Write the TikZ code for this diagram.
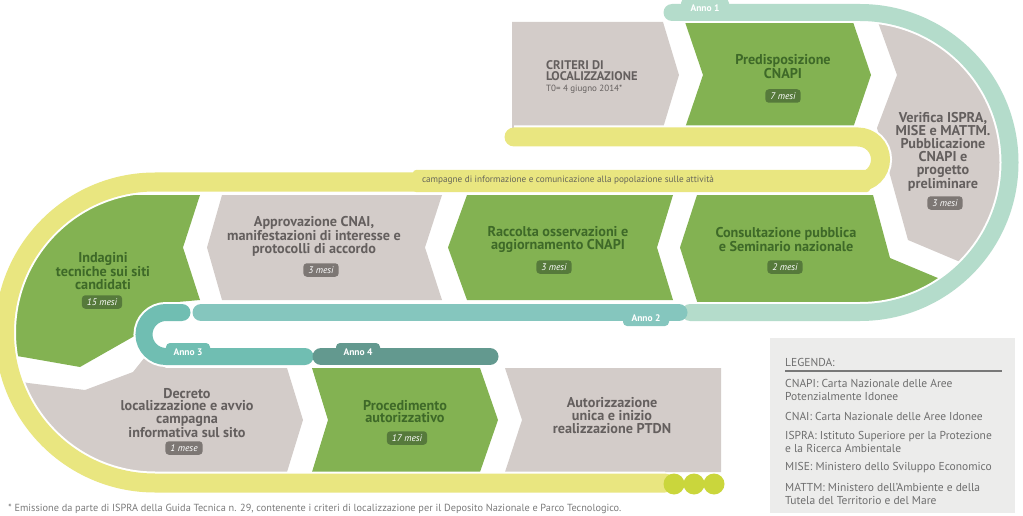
\documentclass[tikz,border=0pt]{standalone}
\usepackage{fontspec}
\setmainfont{PT Sans}
\usepackage{xcolor}

\definecolor{boxgray}{HTML}{D3CCC9}
\definecolor{boxgreen}{HTML}{83B252}
\definecolor{txtgreen}{HTML}{3E6928}
\definecolor{txtgray}{HTML}{645F5E}
\definecolor{pillgreen}{HTML}{567A3B}
\definecolor{pillgray}{HTML}{7D7774}
\definecolor{bandyellow}{HTML}{E9E680}
\definecolor{dotgreen}{HTML}{CAD63C}
\definecolor{anno1}{HTML}{B4DCCB}
\definecolor{anno2}{HTML}{85C6BE}
\definecolor{anno3}{HTML}{70BEB2}
\definecolor{anno4}{HTML}{63998F}
\definecolor{legbg}{HTML}{ECECEB}
\definecolor{legtext}{HTML}{6E6E6E}
\definecolor{legrule}{HTML}{787878}
\definecolor{notegray}{HTML}{7A7A7A}
\definecolor{txtcamp}{HTML}{66665A}

\begin{document}
\begin{tikzpicture}[x=1pt, y=1pt, yscale=-1,
  hd/.style={font=\bfseries\fontsize{14.2}{12.8}\selectfont, align=center, inner sep=0pt},
  hdgreen/.style={hd, text=txtgreen},
  hdgray/.style={hd, text=txtgray},
  dur/.style={font=\itshape\fontsize{9.5}{9.5}\selectfont, text=white, rounded corners=3.5pt, inner xsep=5pt, inner ysep=0pt, minimum height=13.5pt},
  durgreen/.style={dur, fill=pillgreen},
  durgray/.style={dur, fill=pillgray},
  yband/.style={draw=bandyellow, line width=19pt, line cap=round, preaction={draw=white, line width=23pt}},
  tband/.style={draw=#1, line width=17pt, line cap=round, preaction={draw=white, line width=21pt}},
  annotxt/.style={font=\bfseries\fontsize{9.5}{9.5}\selectfont, text=white, inner sep=0pt},
  legtxt/.style={font=\fontsize{11.5}{13}\selectfont, text=legtext, anchor=west, align=left, inner sep=0pt}]

\useasboundingbox (0,0) rectangle (1023,516);

\begin{scope}
\clip (-10,12.5) -- (860,12.5) arc (-90:90:150) -- (-10,312.5) -- cycle;
\fill[boxgray] (512,22) -- (663,22) -- (679,75) -- (663,128) -- (512,128) -- cycle;
\fill[boxgreen] (685,22) -- (853,22) -- (871,75) -- (853,128) -- (685,128) -- (703,75) -- cycle;
\fill[boxgray] (870,0) -- (1050,0) -- (1050,300) -- (965,264) -- (908,240) -- (877,128) -- (897,75) -- cycle;
\fill[boxgreen] (697,195) -- (873,195) -- (890,258) -- (1000,304) -- (1000,314) -- (701,314) -- (680,247.5) -- cycle;
\end{scope}
\fill[boxgreen] (467,195) -- (673,195) -- (657,247.5) -- (673,300) -- (467,300) -- (448,247.5) -- cycle;
\fill[boxgray] (222,195) -- (442,195) -- (425,247.5) -- (442,300) -- (222,300) -- (207,247.5) -- cycle;
\begin{scope}
\clip (1100,182) -- (155,182) arc (-90:-270:150.5) -- (1100,483) -- cycle;
\fill[boxgreen] (-10,195) -- (200,195) -- (183,247.5) -- (200,300) -- (166,303) -- (145,313) -- (138,334) -- (80,367) -- (23,357) -- (-10,352) -- cycle;
\fill[boxgray] (-10,376) -- (28,383) -- (85,390) -- (133,372) -- (145,357) -- (166,368) -- (287,368) -- (303,420) -- (287,472) -- (287,490) -- (-10,490) -- cycle;
\end{scope}
\fill[boxgreen] (312,368) -- (480,368) -- (498,420) -- (480,472) -- (312,472) -- (328,420) -- cycle;
\fill[boxgray] (505,368) -- (721,368) -- (721,472) -- (505,472) -- (522,420) -- cycle;

\draw[yband] (514,137) -- (858,137) arc (-90:90:22.5) -- (155,182) arc (-90:-270:150.5) -- (665,483);
\fill[bandyellow, rounded corners=3pt] (413,170) rectangle (870,192);
\fill[dotgreen] (674,484) circle (10.5);
\fill[dotgreen] (694,484) circle (10.5);
\fill[dotgreen] (714,484) circle (10.5);

\draw[tband=anno1] (672,12.5) -- (860,12.5) arc (-90:90:150) -- (690,312.5);
\draw[tband=anno2] (679,312.5) -- (201,312.5);
\draw[tband=anno3] (182,312.5) -- (166,312.5) arc (-90:-270:22) -- (305,356.5);
\draw[tband=anno4] (321,356.5) -- (490,356.5);
\fill[anno1, rounded corners=4pt] (681,-1) rectangle (729,12);
\fill[anno2, rounded corners=4pt] (623,312) rectangle (669,326);
\fill[anno3, rounded corners=4pt] (166,343) rectangle (210,357);
\fill[anno4, rounded corners=4pt] (336,343) rectangle (380,357);

\node[annotxt] (announo) at (705,8) {Anno 1};
\node[annotxt] (annodue) at (646,318) {Anno 2};
\node[annotxt] (annotre) at (188,352) {Anno 3};
\node[annotxt] (annoquattro) at (358,352) {Anno 4};
\node[inner sep=0pt, text=txtcamp, font=\fontsize{9.2}{9.2}\selectfont] (campagne) at (568,180.5) {campagne di informazione e comunicazione alla popolazione sulle attività};

\node[hdgray, anchor=west, align=left, font=\bfseries\fontsize{12.5}{11}\selectfont] (criteri) at (546,70.5) {CRITERI DI\\LOCALIZZAZIONE};
\node[anchor=west, inner sep=0pt, text=txtgray, font=\fontsize{9}{9}\selectfont] (tzero) at (546,89) {T0= 4 giugno 2014*};
\node[hdgreen] (predisp) at (783,66.5) {Predisposizione\\CNAPI};
\node[durgreen] (predispdur) at (783,96) {7 mesi};
\node[hdgray] (verifica) at (943,152) {Verifica ISPRA,\\MISE e MATTM.\\Pubblicazione\\CNAPI e\\progetto\\preliminare};
\node[durgray] (verificadur) at (945,203) {3 mesi};
\node[hdgreen] (consult) at (786,239.5) {Consultazione pubblica\\e Seminario nazionale};
\node[durgreen] (consultdur) at (785,267) {2 mesi};
\node[hdgreen] (raccolta) at (558,239.5) {Raccolta osservazioni e\\aggiornamento CNAPI};
\node[durgreen] (raccoltadur) at (554,267) {3 mesi};
\node[hdgray] (approv) at (314,236.5) {Approvazione CNAI,\\manifestazioni di interesse e\\protocolli di accordo};
\node[durgray] (approvdur) at (321,270) {3 mesi};
\node[hdgreen] (indagini) at (103,271) {Indagini\\tecniche sui siti\\candidati};
\node[durgreen] (indaginidur) at (102,302) {15 mesi};
\node[hdgray] (decreto) at (187,413) {Decreto\\localizzazione e avvio\\campagna\\informativa sul sito};
\node[durgray] (decretodur) at (184,448) {1 mese};
\node[hdgreen] (proced) at (405,411.5) {Procedimento\\autorizzativo};
\node[durgreen] (proceddur) at (407,438) {17 mesi};
\node[hdgray] (autoriz) at (612,415.5) {Autorizzazione\\unica e inizio\\realizzazione PTDN};

\fill[legbg] (770,338) rectangle (1015,513);
\draw[legrule, line width=1.5pt] (785,371) -- (1002,371);
\node[legtxt] (legenda) at (785,362) {LEGENDA:};
\node[legtxt] (legcnapi) at (785,390) {CNAPI: Carta Nazionale delle Aree\\Potenzialmente Idonee};
\node[legtxt] (legcnai) at (785,416) {CNAI: Carta Nazionale delle Aree Idonee};
\node[legtxt] (legispra) at (785,442) {ISPRA: Istituto Superiore per la Protezione\\e la Ricerca Ambientale};
\node[legtxt] (legmise) at (785,468) {MISE: Ministero dello Sviluppo Economico};
\node[legtxt] (legmattm) at (785,493.5) {MATTM: Ministero dell’Ambiente e della\\Tutela del Territorio e del Mare};

\node[anchor=west, inner sep=0pt, text=notegray, font=\fontsize{10.3}{10.3}\selectfont] (nota) at (8,509) {* Emissione da parte di ISPRA della Guida Tecnica n. 29, contenente i criteri di localizzazione per il Deposito Nazionale e Parco Tecnologico.};
\end{tikzpicture}
\end{document}
